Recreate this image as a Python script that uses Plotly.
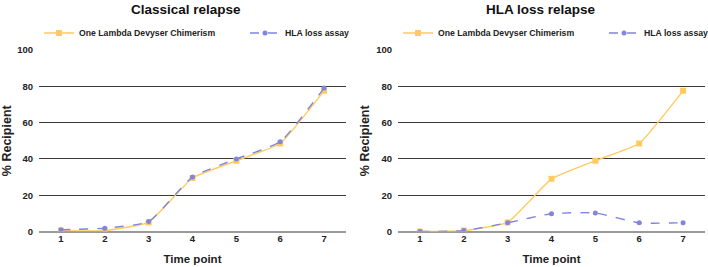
import plotly.graph_objects as go

time_points = ["1", "2", "3", "4", "5", "6", "7"]
classical_chimerism = [0.5, 0.5, 5, 29.5, 39, 48.5, 77.5]
classical_hla = [1, 1.8, 5.5, 30, 40, 49.5, 79]
hlaloss_chimerism = [0, 0.5, 5, 29, 39, 48.5, 77.5]
hlaloss_hla = [0, 0.5, 4.8, 9.8, 10.2, 4.8, 4.8]
titles = ["Classical relapse", "HLA loss relapse"]
names = ["One Lambda Devyser Chimerism", "HLA loss assay"]
y_ticks = [0, 20, 40, 60, 80, 100]

W, H = 708, 267
FONT = "Liberation Sans"
YELLOW = "#FFCB5E"
BLUE = "#8085DD"

fig = go.Figure()

panels = [
    (classical_chimerism, classical_hla, "x", "y", "legend"),
    (hlaloss_chimerism, hlaloss_hla, "x2", "y2", "legend2"),
]
for chim, hla, xa, ya, lg in panels:
    fig.add_trace(go.Scatter(
        x=time_points, y=chim, name="<b>" + names[0] + "</b>", xaxis=xa, yaxis=ya, legend=lg,
        mode="lines+markers", line=dict(color=YELLOW, width=1.4, shape="spline", smoothing=0.35),
        marker=dict(symbol="square", size=6, color=YELLOW)))
    fig.add_trace(go.Scatter(
        x=time_points, y=hla, name="<b>" + names[1] + "</b>", xaxis=xa, yaxis=ya, legend=lg,
        mode="lines+markers", line=dict(color=BLUE, width=1.4, dash="dash", shape="spline", smoothing=0.5),
        marker=dict(symbol="circle", size=5, color=BLUE)))

y_bot = 1 - 231.5 / H
y_top = 1 - 50 / H
doms = [(39 / W, 346 / W), (398 / W, 705 / W)]

axis_common_x = dict(
    type="category", range=[-0.5, 6.5], showgrid=False, zeroline=False, showline=False,
    ticks="", tickfont=dict(family=FONT, size=9.5, color="#222"), automargin=False,
    tickvals=time_points, ticktext=["<b>" + t + "</b>" for t in time_points],
    title=dict(text="<b>Time point</b>", font=dict(family=FONT, size=11.5, color="#222"), standoff=11),
    fixedrange=True,
)
axis_common_y = dict(
    range=[0, 100], tickvals=y_ticks, ticktext=["<b>%d</b>" % v for v in y_ticks],
    showgrid=True, gridcolor="#3a3a3a", gridwidth=1.3,
    zeroline=True, zerolinecolor="#9a9a9a", zerolinewidth=2, showline=False, ticks="",
    tickfont=dict(family=FONT, size=9.5, color="#222"), ticklabelstandoff=5, automargin=False,
    title=dict(text="<b>% Recipient</b>", font=dict(family=FONT, size=12.5, color="#222"), standoff=3),
    domain=[y_bot, y_top], fixedrange=True,
)

fig.update_layout(
    width=W, height=H, margin=dict(l=0, r=0, t=0, b=0, autoexpand=False),
    paper_bgcolor="white", plot_bgcolor="white",
    font=dict(family=FONT, color="#222"),
    xaxis=dict(axis_common_x, domain=list(doms[0]), anchor="y"),
    xaxis2=dict(axis_common_x, domain=list(doms[1]), anchor="y2"),
    yaxis=dict(axis_common_y, anchor="x"),
    yaxis2=dict(axis_common_y, anchor="x2"),
    legend=dict(orientation="h", x=39 / W, xanchor="left", y=1 - 33 / H, yanchor="middle",
                font=dict(family=FONT, size=8.7, color="#222"), entrywidth=161,
                bgcolor="rgba(0,0,0,0)", itemclick=False),
    legend2=dict(orientation="h", x=(39 + 359) / W, xanchor="left", y=1 - 33 / H, yanchor="middle",
                 font=dict(family=FONT, size=8.7, color="#222"), entrywidth=161,
                 bgcolor="rgba(0,0,0,0)", itemclick=False),
    annotations=[
        dict(text="<b>" + titles[0] + "</b>", x=185.5 / W, y=1 - 9.5 / H, xref="paper", yref="paper",
             xanchor="center", yanchor="middle",
             showarrow=False, font=dict(family=FONT, size=13.5, color="#111")),
        dict(text="<b>" + titles[1] + "</b>", x=541 / W, y=1 - 9.5 / H, xref="paper", yref="paper",
             xanchor="center", yanchor="middle",
             showarrow=False, font=dict(family=FONT, size=13.5, color="#111")),
    ],
)

fig.write_html("out.html")
